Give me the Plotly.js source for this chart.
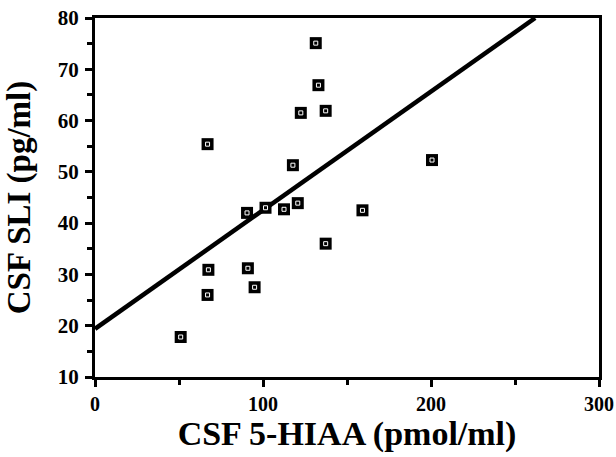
<!DOCTYPE html>
<html>
<head>
<meta charset="utf-8">
<script src="https://cdn.plot.ly/plotly-3.0.1.min.js"></script>
<style>html,body{margin:0;padding:0;background:#fff;}#chart{width:616px;height:457px;}</style>
</head>
<body>
<div id="chart"></div>
<script>
// CSF 5-HIAA (pmol/ml) values
var hiaa = [51, 67, 67.5, 67, 90.5, 91, 95, 101.5, 112.5, 120.7, 117.8, 122.5, 131.4, 133, 137.3, 137.3, 159.2, 200.6];
// CSF SLI (pg/ml) values
var sli  = [17.8, 55.4, 30.9, 26, 42, 31.2, 27.5, 43, 42.7, 43.9, 51.3, 61.5, 75.1, 66.9, 61.9, 36, 42.5, 52.3];
// regression line endpoints
var fitX = [0, 262];
var fitY = [19.4, 80];

var serif = "'Liberation Serif', 'DejaVu Serif', serif";

var traces = [
  {x: fitX, y: fitY, mode: 'lines', line: {color: '#000', width: 4.5}, hoverinfo: 'skip'},
  {x: hiaa, y: sli, mode: 'markers', marker: {symbol: 'square', size: 12, color: '#000'}},
  {x: hiaa, y: sli, mode: 'markers', marker: {symbol: 'square-open', size: 4, color: '#fff', line: {width: 1, color: '#fff'}}, hoverinfo: 'skip'}
];

var layout = {
  width: 616, height: 457,
  margin: {l: 95, r: 17, t: 18, b: 80},
  paper_bgcolor: '#fff', plot_bgcolor: '#fff',
  showlegend: false,
  xaxis: {
    range: [0, 300], dtick: 100, tick0: 0,
    showgrid: false, zeroline: false,
    showline: true, linewidth: 3, linecolor: '#000', mirror: true,
    ticks: 'outside', ticklen: 7, tickwidth: 3, tickcolor: '#000',
    minor: {dtick: 50, ticks: 'outside', ticklen: 5, tickwidth: 3, tickcolor: '#000'},
    ticklabeloverflow: 'allow',
    tickfont: {family: serif, size: 20, color: '#000', weight: 'bold'},
    title: {text: 'CSF 5-HIAA (pmol/ml)', font: {family: serif, size: 34, color: '#000', weight: 'bold'}, standoff: 4}
  },
  yaxis: {
    range: [10, 80], dtick: 10, tick0: 10,
    showgrid: false, zeroline: false,
    showline: true, linewidth: 3, linecolor: '#000', mirror: true,
    ticks: 'outside', ticklen: 7, tickwidth: 3, tickcolor: '#000',
    ticklabelstandoff: 2,
    minor: {dtick: 5, ticks: 'outside', ticklen: 5, tickwidth: 3, tickcolor: '#000'},
    tickfont: {family: serif, size: 21, color: '#000', weight: 'bold'},
    title: {text: 'CSF SLI (pg/ml)', font: {family: serif, size: 33, color: '#000', weight: 'bold'}, standoff: 18}
  }
};

Plotly.newPlot('chart', traces, layout, {staticPlot: true, displayModeBar: false});
</script>
</body>
</html>
